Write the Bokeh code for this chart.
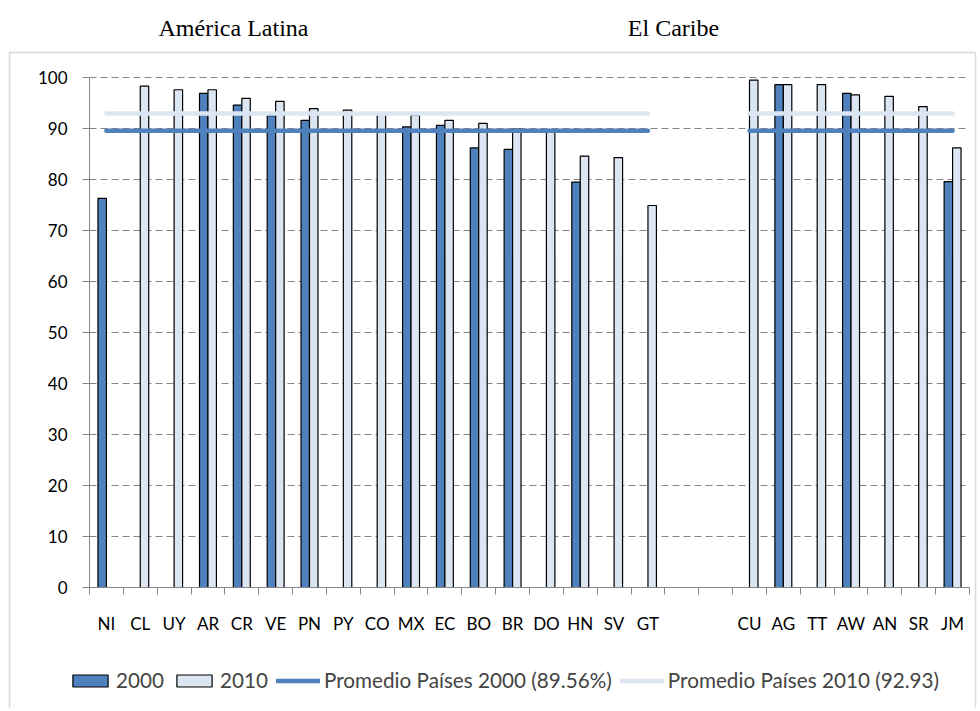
from bokeh.plotting import figure
from bokeh.models import (Range1d, FixedTicker, Legend, LegendItem, Label,
                          BoxAnnotation)
from bokeh.embed import file_html
from bokeh.resources import INLINE

# ---- data ----
latam = ["NI", "CL", "UY", "AR", "CR", "VE", "PN", "PY", "CO", "MX", "EC",
         "BO", "BR", "DO", "HN", "SV", "GT"]
latam_2000 = [76.3, None, None, 96.9, 94.6, 92.5, 91.6, None, None, 90.3,
              90.6, 86.2, 85.9, None, 79.5, None, None]
latam_2010 = [None, 98.3, 97.6, 97.6, 95.9, 95.3, 93.9, 93.6, 92.8, 92.6,
              91.6, 91.0, 89.9, 89.5, 84.6, 84.3, 74.9]

carib = ["CU", "AG", "TT", "AW", "AN", "SR", "JM"]
carib_2000 = [None, 98.6, None, 96.9, None, None, 79.6]
carib_2010 = [99.5, 98.6, 98.6, 96.6, 96.3, 94.3, 86.2]

avg_2000 = 89.56
avg_2010 = 92.93
group_titles = ["América Latina", "El Caribe"]
y_ticks = [0, 10, 20, 30, 40, 50, 60, 70, 80, 90, 100]

# ---- layout helpers (slot = 2 x-units) ----
n_gap = 2
slots_latam = list(range(len(latam)))
slots_carib = [len(latam) + n_gap + j for j in range(len(carib))]
n_slots = len(latam) + n_gap + len(carib)
all_cats = latam + carib
all_slots = slots_latam + slots_carib
all_2000 = latam_2000 + carib_2000
all_2010 = latam_2010 + carib_2010
X_MAX = 2 * n_slots


def center(s):
    return 2 * s + 1


x00, t00, x10, t10 = [], [], [], []
for s, a, b in zip(all_slots, all_2000, all_2010):
    if a is not None:
        x00.append(center(s) - 0.25); t00.append(a)
    if b is not None:
        x10.append(center(s) + 0.25); t10.append(b)

DARK = "#4F81BD"
LIGHT = "#DCE6F2"
GRAY = "#868686"
FONT = "Lato"

# canvas size and where the plotting area (0..X_MAX, 0..100) sits on it (px)
W, H = 978, 708
PL, PR, PT, PB = 89, 969, 77, 587
sx = (PR - PL) / X_MAX
sy = (PB - PT) / 100.0


def xd(px):  # canvas px -> data x
    return (px - PL) / sx


def yd(py):  # canvas px -> data y
    return (PB - py) / sy


p = figure(width=W, height=H, output_backend="svg", toolbar_location=None,
           x_range=Range1d(xd(0), xd(W)), y_range=Range1d(yd(H), yd(0)),
           min_border=0, min_border_left=0, min_border_right=0,
           min_border_top=0, min_border_bottom=0)
p.outline_line_color = None
p.background_fill_color = "white"
p.border_fill_color = "white"

# chart-area border
p.add_layout(BoxAnnotation(left=xd(9), right=xd(975), top=yd(52), bottom=yd(H + 20),
                           fill_alpha=0, line_color=GRAY, line_width=1.5,
                           level="underlay"))

r00 = p.vbar(x=x00, top=t00, width=0.5, bottom=0, fill_color=DARK,
             line_color="black", line_width=1.2)
r10 = p.vbar(x=x10, top=t10, width=0.5, bottom=0, fill_color=LIGHT,
             line_color="black", line_width=1.2)

nan = float("nan")
lx = [center(slots_latam[0]), center(slots_latam[-1]), nan,
      center(slots_carib[0]), center(slots_carib[-1])]
ra = p.line(lx, [avg_2000, avg_2000, nan, avg_2000, avg_2000], line_color=DARK,
            line_width=4.5, line_cap="round")
rb = p.line(lx, [avg_2010, avg_2010, nan, avg_2010, avg_2010], line_color=LIGHT,
            line_width=4.5, line_cap="round")

# axes, fixed at the data origin
p.xgrid.grid_line_color = None
p.ygrid.ticker = FixedTicker(ticks=y_ticks)
p.ygrid.grid_line_color = GRAY
p.ygrid.grid_line_dash = "7 4"
p.ygrid.grid_line_width = 1
p.ygrid.bounds = (0, 100)
try:
    p.ygrid.cross_bounds = (0, X_MAX)
except Exception:
    p.ygrid.grid_line_color = None
    p.segment(x0=[0] * len(y_ticks), x1=[X_MAX] * len(y_ticks), y0=y_ticks,
              y1=y_ticks, line_color=GRAY, line_dash="7 4", level="underlay")

p.yaxis.fixed_location = 0
p.yaxis.bounds = (0, 100)
p.yaxis.ticker = FixedTicker(ticks=y_ticks)
p.yaxis.axis_line_color = GRAY
p.yaxis.major_tick_line_color = GRAY
p.yaxis.major_tick_out = 7
p.yaxis.major_tick_in = 0
p.yaxis.minor_tick_line_color = None
p.yaxis.major_label_standoff = 15
p.yaxis.major_label_text_font = FONT
p.yaxis.major_label_text_font_size = "17px"
p.yaxis.major_label_text_color = "black"

centers = [center(s) for s in all_slots]
p.xaxis.fixed_location = 0
p.xaxis.bounds = (0, X_MAX)
p.xaxis.ticker = FixedTicker(ticks=centers,
                             minor_ticks=[2 * k for k in range(n_slots + 1)])
p.xaxis.major_label_overrides = {c: lab for c, lab in zip(centers, all_cats)}
p.xaxis.axis_line_color = GRAY
p.xaxis.major_tick_line_color = None
p.xaxis.minor_tick_line_color = GRAY
p.xaxis.minor_tick_out = 7
p.xaxis.minor_tick_in = 0
p.xaxis.major_tick_out = 0
p.xaxis.major_tick_in = 0
p.xaxis.major_label_standoff = 18
p.xaxis.major_label_text_font = FONT
p.xaxis.major_label_text_font_size = "17px"
p.xaxis.major_label_text_color = "black"

# group titles
for cx, txt in zip([233, 673], group_titles):
    p.add_layout(Label(x=xd(cx), y=yd(27), text=txt, text_align="center",
                       text_baseline="alphabetic", text_font="Liberation Serif",
                       text_font_size="24px", text_color="black"))

legend = Legend(items=[LegendItem(label="2000", renderers=[r00]),
                       LegendItem(label="2010", renderers=[r10]),
                       LegendItem(label="Promedio Países 2000 (89.56%)", renderers=[ra]),
                       LegendItem(label="Promedio Países 2010 (92.93)", renderers=[rb])],
                orientation="horizontal", location=(68, H - 692))
legend.border_line_color = None
legend.background_fill_alpha = 0
legend.label_text_font = FONT
legend.label_text_font_size = "20.7px"
legend.glyph_width = 44
legend.glyph_height = 15
legend.label_standoff = 4
legend.spacing = 8
legend.padding = 0
legend.margin = 0
p.add_layout(legend)

open("out.html", "w").write(file_html(p, INLINE))
